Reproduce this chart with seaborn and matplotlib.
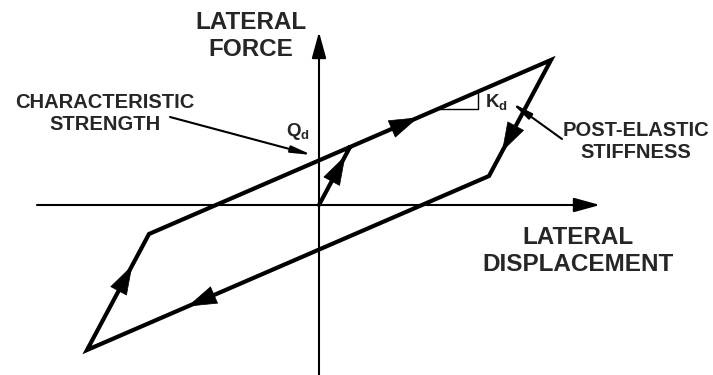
import numpy as np
import matplotlib
matplotlib.use('Agg')
import matplotlib.pyplot as plt
import seaborn as sns

# hysteresis loop (displacement, force) - arbitrary units
disp = [0, 31, 232, 170, -232, -170, 31]
force = [0, 58, 145, 29, -145, -29, 58]

# (start vertex, end vertex, where the arrowhead sits along the leg)
arrow_legs = [(0, 1, 0.85), (5, 2, 0.67), (2, 3, 0.79), (3, 4, 0.75), (4, 5, 0.73)]

# little slope triangle for K_d
kd_x = [118, 159]

axis_x = [-282, 281]
axis_y = [-172, 173]

sns.set_style('white')
plt.rcParams['font.family'] = ['Liberation Sans', 'DejaVu Sans']
plt.rcParams['font.weight'] = 'bold'
plt.rcParams['mathtext.fontset'] = 'custom'
plt.rcParams['mathtext.rm'] = 'Liberation Sans:bold'
plt.rcParams['mathtext.it'] = 'Liberation Sans:bold'
plt.rcParams['mathtext.bf'] = 'Liberation Sans:bold'

fig = plt.figure(figsize=(7.13, 3.75), dpi=100)
ax = fig.add_axes([0, 0, 1, 1])

# axes with arrows
ax_arrow = dict(arrowstyle='-|>,head_length=0.8,head_width=0.22', mutation_scale=20,
                lw=1.5, color='black', shrinkA=0, shrinkB=0)
ax.annotate('', xy=(axis_x[1], 0), xytext=(axis_x[0], 0), arrowprops=ax_arrow)
ax.annotate('', xy=(0, axis_y[1]), xytext=(0, axis_y[0]), arrowprops=ax_arrow)

# the loop
sns.lineplot(x=disp, y=force, sort=False, estimator=None, color='black', lw=3,
             ax=ax, solid_joinstyle='miter')

# direction arrows on the loop
pts = np.column_stack([disp, force]).astype(float)
for i0, i1, f in arrow_legs:
    p0, p1 = pts[i0], pts[i1]
    d = (p1 - p0) / np.hypot(*(p1 - p0))
    tip = p0 + f * (p1 - p0)
    ax.annotate('', xy=tip, xytext=tip - 22 * d,
                arrowprops=dict(arrowstyle='-|>,head_length=1.0,head_width=0.32',
                                mutation_scale=20, lw=0.5, color='black',
                                shrinkA=0, shrinkB=0))

# K_d triangle on the upper branch
slope = (force[2] - force[5]) / (disp[2] - disp[5])
kd_y = [force[5] + slope * (x - disp[5]) for x in kd_x]
ax.plot([kd_x[0], kd_x[1], kd_x[1]], [kd_y[0], kd_y[0], kd_y[1]], color='black', lw=1)
ax.text(kd_x[1] + 7, kd_y[0] + 7, '$K_d$', fontsize=13.5, ha='left', va='center')

# Q_d
ax.text(-21, 73, '$Q_d$', fontsize=13.5, ha='center', va='center')

# labels
lab = dict(ha='center', va='center', multialignment='center', fontweight='bold')
ax.text(-68, 169, 'LATERAL\nFORCE', fontsize=17.5, **lab)
ax.text(259, -46, 'LATERAL\nDISPLACEMENT', fontsize=17.5, **lab)
ax.text(-214, 91, 'CHARACTERISTIC\nSTRENGTH', fontsize=14.5, **lab)
ax.text(317, 63, 'POST-ELASTIC\nSTIFFNESS', fontsize=14.5, **lab)

# pointer arrows
ptr = dict(arrowstyle='-|>,head_length=0.6,head_width=0.1', mutation_scale=20,
           lw=1.5, color='black', shrinkA=0, shrinkB=0)
ax.annotate('', xy=(-7, 50), xytext=(-149, 88), arrowprops=ptr)
ax.annotate('', xy=(193, 102), xytext=(243, 66), arrowprops=ptr)

ax.set_xlim(-319, 394)
ax.set_ylim(-170, 205)
ax.axis('off')

plt.savefig('out.png', dpi=100)
